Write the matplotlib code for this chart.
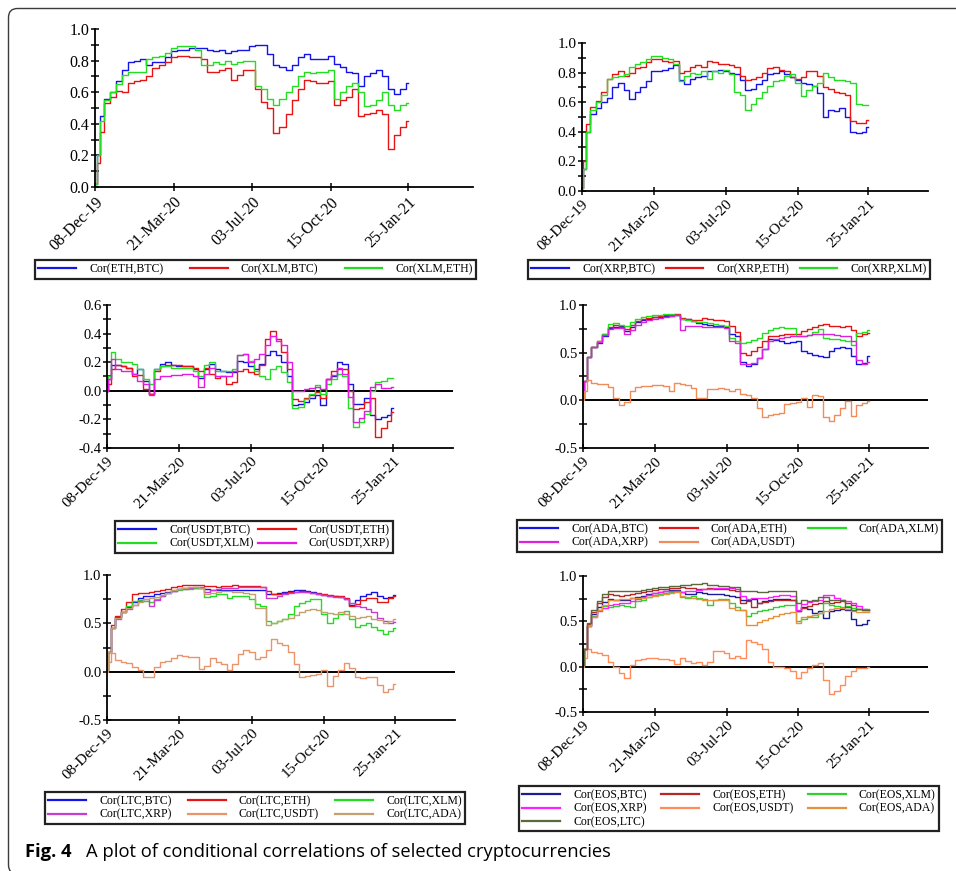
import matplotlib
matplotlib.use("Agg")
import matplotlib.pyplot as plt
import matplotlib.dates as mdates
from matplotlib.ticker import MultipleLocator, FormatStrFormatter
from matplotlib.patches import FancyBboxPatch
from matplotlib.lines import Line2D
import pandas as pd

plt.rcParams["font.family"] = ["Liberation Serif", "DejaVu Serif"]
plt.rcParams["axes.unicode_minus"] = False

# ---------------------------------------------------------------- data
start = pd.Timestamp("2019-12-08")
obs_days = [0, 4] + list(range(8, 409, 8)) + [414]
dates = start + pd.to_timedelta(obs_days, unit="D")

tick_labels = ["08-Dec-19", "21-Mar-20", "03-Jul-20", "15-Oct-20", "25-Jan-21"]
tick_dates = pd.to_datetime(tick_labels, format="%d-%b-%y")
x_end = start + pd.Timedelta(days=500)

# Panel 1
cor_eth_btc = [0.02, 0.20, 0.45, 0.56, 0.60, 0.67, 0.74, 0.79, 0.80, 0.81,
               0.77, 0.79, 0.79, 0.82, 0.86, 0.87, 0.87, 0.88, 0.88, 0.88,
               0.87, 0.86, 0.87, 0.85, 0.86, 0.87, 0.87, 0.89, 0.90, 0.90,
               0.84, 0.77, 0.76, 0.74, 0.77, 0.82, 0.84, 0.81, 0.81, 0.81,
               0.83, 0.78, 0.76, 0.73, 0.72, 0.64, 0.70, 0.72, 0.74, 0.70,
               0.62, 0.59, 0.62, 0.66]
cor_xlm_btc = [0.02, 0.15, 0.35, 0.53, 0.57, 0.61, 0.60, 0.66, 0.67, 0.68,
               0.70, 0.75, 0.77, 0.79, 0.82, 0.83, 0.83, 0.82, 0.82, 0.81,
               0.73, 0.73, 0.74, 0.75, 0.68, 0.71, 0.74, 0.74, 0.62, 0.54,
               0.50, 0.34, 0.38, 0.46, 0.55, 0.62, 0.68, 0.67, 0.66, 0.66,
               0.67, 0.52, 0.55, 0.57, 0.62, 0.45, 0.46, 0.47, 0.49, 0.46,
               0.24, 0.33, 0.38, 0.42]
cor_xlm_eth = [0.02, 0.20, 0.42, 0.55, 0.60, 0.65, 0.71, 0.73, 0.73, 0.73,
               0.81, 0.82, 0.83, 0.85, 0.88, 0.89, 0.89, 0.89, 0.87, 0.77,
               0.77, 0.79, 0.78, 0.80, 0.78, 0.79, 0.80, 0.80, 0.64, 0.62,
               0.56, 0.52, 0.56, 0.60, 0.64, 0.70, 0.73, 0.72, 0.73, 0.73,
               0.74, 0.56, 0.60, 0.64, 0.66, 0.60, 0.51, 0.52, 0.55, 0.60,
               0.52, 0.49, 0.52, 0.53]

# Panel 2
cor_xrp_btc = [0.02, 0.15, 0.40, 0.52, 0.56, 0.60, 0.63, 0.70, 0.73, 0.68,
               0.62, 0.67, 0.70, 0.74, 0.81, 0.81, 0.82, 0.83, 0.85, 0.75,
               0.72, 0.76, 0.77, 0.78, 0.81, 0.81, 0.82, 0.81, 0.80, 0.79,
               0.75, 0.68, 0.69, 0.72, 0.75, 0.79, 0.80, 0.81, 0.79, 0.77,
               0.75, 0.73, 0.72, 0.71, 0.66, 0.50, 0.55, 0.54, 0.56, 0.50,
               0.40, 0.39, 0.40, 0.43]
cor_xrp_eth = [0.02, 0.20, 0.45, 0.57, 0.61, 0.67, 0.76, 0.79, 0.81, 0.78,
               0.80, 0.83, 0.84, 0.87, 0.89, 0.89, 0.88, 0.87, 0.88, 0.80,
               0.81, 0.84, 0.85, 0.84, 0.88, 0.87, 0.86, 0.86, 0.85, 0.84,
               0.78, 0.75, 0.76, 0.77, 0.80, 0.83, 0.84, 0.82, 0.81, 0.77,
               0.76, 0.77, 0.81, 0.81, 0.78, 0.70, 0.69, 0.67, 0.66, 0.65,
               0.47, 0.46, 0.46, 0.48]
cor_xrp_xlm = [0.02, 0.15, 0.40, 0.55, 0.60, 0.65, 0.76, 0.77, 0.78, 0.79,
               0.84, 0.86, 0.87, 0.89, 0.91, 0.91, 0.90, 0.89, 0.86, 0.74,
               0.78, 0.80, 0.79, 0.81, 0.76, 0.81, 0.80, 0.82, 0.79, 0.67,
               0.65, 0.55, 0.59, 0.63, 0.67, 0.71, 0.74, 0.75, 0.78, 0.79,
               0.73, 0.64, 0.68, 0.71, 0.73, 0.80, 0.77, 0.75, 0.75, 0.74,
               0.73, 0.59, 0.58, 0.58]

# Panel 3
cor_usdt_btc = [0.00, 0.08, 0.18, 0.18, 0.17, 0.16, 0.12, 0.15, 0.07, -0.02,
                0.15, 0.19, 0.20, 0.18, 0.17, 0.17, 0.17, 0.15, 0.09, 0.15,
                0.19, 0.15, 0.14, 0.13, 0.13, 0.21, 0.20, 0.17, 0.15, 0.19,
                0.25, 0.28, 0.25, 0.20, 0.10, -0.10, -0.09, -0.08, -0.05, -0.03,
                -0.10, 0.08, 0.10, 0.20, 0.19, 0.05, -0.09, -0.09, -0.05, -0.17,
                -0.20, -0.18, -0.17, -0.12]
cor_usdt_eth = [0.00, 0.05, 0.15, 0.18, 0.17, 0.16, 0.10, 0.11, 0.01, -0.02,
                0.14, 0.17, 0.18, 0.18, 0.18, 0.17, 0.17, 0.16, 0.14, 0.16,
                0.12, 0.09, 0.10, 0.05, 0.06, 0.14, 0.15, 0.13, 0.12, 0.18,
                0.36, 0.42, 0.36, 0.27, 0.15, -0.06, -0.07, -0.05, -0.03, -0.01,
                -0.05, 0.08, 0.14, 0.15, 0.15, 0.00, -0.13, -0.12, -0.08, -0.05,
                -0.32, -0.26, -0.21, -0.15]
cor_usdt_xlm = [0.00, 0.10, 0.27, 0.22, 0.20, 0.20, 0.19, 0.15, 0.08, 0.05,
                0.15, 0.17, 0.17, 0.16, 0.16, 0.16, 0.16, 0.14, 0.10, 0.18,
                0.20, 0.14, 0.14, 0.14, 0.15, 0.25, 0.26, 0.21, 0.14, 0.10,
                0.08, 0.15, 0.17, 0.13, 0.06, -0.12, -0.11, -0.06, -0.02, 0.04,
                -0.02, 0.05, 0.08, 0.12, 0.10, -0.12, -0.25, -0.22, -0.16, 0.00,
                0.06, 0.07, 0.09, 0.09]
cor_usdt_xrp = [0.00, 0.08, 0.22, 0.15, 0.14, 0.14, 0.12, 0.07, 0.05, -0.03,
                0.08, 0.10, 0.10, 0.11, 0.11, 0.12, 0.12, 0.10, 0.03, 0.12,
                0.16, 0.10, 0.10, 0.10, 0.14, 0.25, 0.26, 0.20, 0.22, 0.26,
                0.32, 0.38, 0.35, 0.32, 0.20, 0.00, 0.00, 0.01, 0.02, 0.03,
                0.01, 0.08, 0.11, 0.16, 0.12, -0.04, -0.22, -0.19, -0.14, 0.03,
                0.05, 0.02, 0.02, 0.03]

# Panel 4
cor_ada_btc = [0.02, 0.20, 0.45, 0.56, 0.60, 0.68, 0.76, 0.77, 0.78, 0.73,
               0.77, 0.82, 0.84, 0.85, 0.87, 0.87, 0.88, 0.88, 0.90, 0.85,
               0.85, 0.83, 0.81, 0.80, 0.79, 0.78, 0.78, 0.77, 0.70, 0.68,
               0.40, 0.36, 0.38, 0.44, 0.54, 0.64, 0.63, 0.62, 0.60, 0.61,
               0.62, 0.52, 0.50, 0.48, 0.46, 0.45, 0.52, 0.55, 0.56, 0.55,
               0.46, 0.38, 0.39, 0.47]
cor_ada_eth = [0.02, 0.20, 0.45, 0.56, 0.62, 0.70, 0.77, 0.79, 0.77, 0.75,
               0.79, 0.83, 0.85, 0.86, 0.87, 0.88, 0.89, 0.90, 0.91, 0.86,
               0.85, 0.84, 0.84, 0.86, 0.85, 0.84, 0.84, 0.83, 0.78, 0.72,
               0.50, 0.48, 0.52, 0.56, 0.62, 0.67, 0.68, 0.69, 0.70, 0.70,
               0.70, 0.73, 0.75, 0.77, 0.79, 0.80, 0.78, 0.78, 0.77, 0.78,
               0.74, 0.68, 0.70, 0.71]
cor_ada_xlm = [0.02, 0.20, 0.45, 0.56, 0.62, 0.70, 0.80, 0.81, 0.79, 0.78,
               0.82, 0.85, 0.87, 0.88, 0.89, 0.90, 0.91, 0.91, 0.90, 0.85,
               0.84, 0.83, 0.82, 0.82, 0.81, 0.80, 0.79, 0.78, 0.65, 0.62,
               0.60, 0.61, 0.63, 0.65, 0.71, 0.74, 0.76, 0.77, 0.76, 0.76,
               0.68, 0.68, 0.69, 0.72, 0.75, 0.65, 0.64, 0.64, 0.63, 0.62,
               0.58, 0.71, 0.72, 0.74]
cor_ada_xrp = [0.02, 0.20, 0.45, 0.56, 0.61, 0.69, 0.75, 0.76, 0.76, 0.70,
               0.74, 0.79, 0.82, 0.84, 0.85, 0.86, 0.87, 0.88, 0.89, 0.74,
               0.78, 0.78, 0.78, 0.77, 0.77, 0.77, 0.77, 0.76, 0.62, 0.60,
               0.38, 0.38, 0.39, 0.44, 0.54, 0.62, 0.64, 0.65, 0.66, 0.67,
               0.68, 0.68, 0.69, 0.70, 0.70, 0.70, 0.70, 0.69, 0.68, 0.67,
               0.62, 0.42, 0.38, 0.40]
cor_ada_usdt = [0.00, 0.10, 0.21, 0.18, 0.17, 0.17, 0.14, 0.02, -0.05, -0.02,
                0.10, 0.14, 0.15, 0.15, 0.16, 0.16, 0.15, 0.10, 0.18, 0.17,
                0.16, 0.13, 0.02, 0.02, 0.12, 0.12, 0.13, 0.12, 0.10, 0.12,
                0.07, 0.06, 0.02, -0.08, -0.17, -0.15, -0.14, -0.13, -0.04, -0.03,
                -0.02, 0.02, -0.07, 0.06, 0.05, -0.18, -0.22, -0.15, -0.08, -0.01,
                -0.16, -0.05, -0.03, -0.01]

# Panel 5
cor_ltc_btc = [0.02, 0.20, 0.45, 0.57, 0.62, 0.67, 0.72, 0.76, 0.78, 0.78,
               0.80, 0.81, 0.82, 0.83, 0.86, 0.87, 0.87, 0.87, 0.87, 0.86,
               0.85, 0.84, 0.84, 0.84, 0.84, 0.85, 0.85, 0.85, 0.85, 0.85,
               0.80, 0.80, 0.81, 0.82, 0.83, 0.84, 0.84, 0.83, 0.82, 0.80,
               0.79, 0.78, 0.78, 0.77, 0.75, 0.69, 0.74, 0.78, 0.80, 0.82,
               0.78, 0.76, 0.77, 0.79]
cor_ltc_eth = [0.02, 0.20, 0.48, 0.58, 0.65, 0.72, 0.80, 0.81, 0.81, 0.82,
               0.83, 0.84, 0.86, 0.88, 0.89, 0.90, 0.90, 0.90, 0.90, 0.89,
               0.89, 0.88, 0.89, 0.89, 0.90, 0.89, 0.89, 0.89, 0.89, 0.88,
               0.83, 0.80, 0.80, 0.81, 0.82, 0.82, 0.83, 0.82, 0.81, 0.81,
               0.80, 0.79, 0.78, 0.78, 0.76, 0.68, 0.70, 0.74, 0.76, 0.76,
               0.72, 0.72, 0.76, 0.78]
cor_ltc_xlm = [0.02, 0.20, 0.45, 0.56, 0.62, 0.68, 0.73, 0.74, 0.73, 0.72,
               0.75, 0.78, 0.81, 0.84, 0.85, 0.86, 0.86, 0.87, 0.87, 0.77,
               0.78, 0.80, 0.80, 0.76, 0.78, 0.78, 0.78, 0.75, 0.70, 0.68,
               0.52, 0.50, 0.52, 0.55, 0.60, 0.68, 0.71, 0.73, 0.75, 0.75,
               0.60, 0.50, 0.56, 0.60, 0.63, 0.55, 0.46, 0.48, 0.50, 0.46,
               0.43, 0.39, 0.42, 0.45]
cor_ltc_xrp = [0.02, 0.20, 0.45, 0.55, 0.62, 0.65, 0.69, 0.73, 0.75, 0.68,
               0.74, 0.78, 0.81, 0.83, 0.86, 0.86, 0.87, 0.88, 0.88, 0.82,
               0.84, 0.86, 0.87, 0.87, 0.87, 0.88, 0.88, 0.88, 0.88, 0.88,
               0.76, 0.76, 0.78, 0.80, 0.81, 0.82, 0.82, 0.82, 0.81, 0.80,
               0.79, 0.78, 0.77, 0.77, 0.75, 0.71, 0.68, 0.67, 0.65, 0.62,
               0.56, 0.52, 0.50, 0.51]
cor_ltc_usdt = [0.00, 0.10, 0.19, 0.12, 0.10, 0.09, 0.05, 0.02, -0.06, -0.05,
                0.05, 0.10, 0.11, 0.14, 0.17, 0.16, 0.15, 0.15, 0.03, 0.06,
                0.14, 0.10, 0.08, 0.02, 0.08, 0.18, 0.22, 0.20, 0.13, 0.15,
                0.22, 0.34, 0.30, 0.28, 0.20, 0.08, -0.05, -0.04, -0.03, -0.02,
                0.02, -0.15, -0.04, 0.02, 0.09, 0.04, -0.06, -0.07, -0.06, -0.05,
                -0.14, -0.21, -0.18, -0.13]
cor_ltc_ada = [0.02, 0.20, 0.45, 0.56, 0.62, 0.66, 0.69, 0.72, 0.75, 0.76,
               0.77, 0.79, 0.81, 0.84, 0.86, 0.87, 0.88, 0.88, 0.87, 0.80,
               0.81, 0.82, 0.83, 0.83, 0.82, 0.82, 0.81, 0.80, 0.66, 0.66,
               0.48, 0.50, 0.52, 0.54, 0.56, 0.59, 0.62, 0.64, 0.65, 0.64,
               0.62, 0.61, 0.60, 0.62, 0.60, 0.58, 0.56, 0.57, 0.58, 0.55,
               0.53, 0.50, 0.52, 0.55]

# Panel 6
cor_eos_btc = [0.02, 0.20, 0.45, 0.58, 0.66, 0.71, 0.75, 0.74, 0.73, 0.74,
               0.76, 0.77, 0.78, 0.80, 0.81, 0.82, 0.83, 0.85, 0.85, 0.82,
               0.80, 0.80, 0.82, 0.81, 0.80, 0.80, 0.80, 0.79, 0.78, 0.77,
               0.73, 0.74, 0.75, 0.70, 0.72, 0.74, 0.75, 0.75, 0.75, 0.74,
               0.61, 0.66, 0.64, 0.59, 0.61, 0.54, 0.61, 0.63, 0.64, 0.63,
               0.53, 0.46, 0.47, 0.51]
cor_eos_eth = [0.02, 0.20, 0.47, 0.60, 0.70, 0.77, 0.80, 0.79, 0.78, 0.79,
               0.80, 0.81, 0.82, 0.83, 0.85, 0.86, 0.86, 0.87, 0.87, 0.88,
               0.87, 0.87, 0.86, 0.86, 0.87, 0.86, 0.86, 0.86, 0.85, 0.84,
               0.70, 0.72, 0.66, 0.70, 0.71, 0.72, 0.73, 0.73, 0.73, 0.73,
               0.61, 0.65, 0.67, 0.69, 0.70, 0.72, 0.70, 0.71, 0.72, 0.70,
               0.68, 0.64, 0.62, 0.62]
cor_eos_xlm = [0.02, 0.20, 0.45, 0.56, 0.62, 0.67, 0.66, 0.67, 0.68, 0.67,
               0.66, 0.72, 0.74, 0.77, 0.79, 0.80, 0.81, 0.82, 0.83, 0.77,
               0.76, 0.78, 0.76, 0.75, 0.68, 0.73, 0.75, 0.75, 0.70, 0.66,
               0.62, 0.56, 0.59, 0.61, 0.63, 0.64, 0.66, 0.67, 0.68, 0.68,
               0.50, 0.53, 0.55, 0.55, 0.59, 0.70, 0.68, 0.67, 0.66, 0.67,
               0.65, 0.64, 0.64, 0.64]
cor_eos_xrp = [0.02, 0.20, 0.45, 0.55, 0.61, 0.65, 0.68, 0.69, 0.70, 0.70,
               0.72, 0.75, 0.77, 0.79, 0.81, 0.82, 0.83, 0.83, 0.84, 0.82,
               0.83, 0.84, 0.85, 0.86, 0.86, 0.87, 0.87, 0.87, 0.87, 0.86,
               0.78, 0.75, 0.76, 0.76, 0.76, 0.77, 0.78, 0.79, 0.79, 0.78,
               0.63, 0.69, 0.71, 0.72, 0.74, 0.79, 0.79, 0.76, 0.74, 0.72,
               0.70, 0.67, 0.64, 0.62]
cor_eos_usdt = [0.00, 0.10, 0.20, 0.16, 0.15, 0.13, 0.05, 0.00, -0.07, -0.13,
                0.02, 0.07, 0.09, 0.10, 0.10, 0.08, 0.09, 0.07, 0.03, 0.10,
                0.06, 0.04, 0.05, 0.02, 0.05, 0.17, 0.17, 0.15, 0.10, 0.12,
                0.10, 0.29, 0.27, 0.25, 0.20, 0.05, 0.00, 0.00, -0.01, -0.05,
                -0.13, -0.06, -0.02, 0.02, 0.04, -0.15, -0.30, -0.27, -0.20, -0.10,
                -0.05, -0.02, -0.01, 0.00]
cor_eos_ada = [0.02, 0.20, 0.45, 0.55, 0.62, 0.68, 0.73, 0.74, 0.75, 0.75,
               0.76, 0.76, 0.76, 0.77, 0.78, 0.79, 0.80, 0.81, 0.82, 0.78,
               0.77, 0.76, 0.75, 0.74, 0.73, 0.73, 0.73, 0.74, 0.65, 0.62,
               0.62, 0.46, 0.46, 0.49, 0.52, 0.54, 0.56, 0.58, 0.59, 0.60,
               0.48, 0.55, 0.56, 0.57, 0.59, 0.61, 0.64, 0.65, 0.65, 0.64,
               0.61, 0.60, 0.60, 0.60]
cor_eos_ltc = [0.02, 0.20, 0.48, 0.62, 0.72, 0.80, 0.84, 0.84, 0.83, 0.83,
               0.84, 0.84, 0.85, 0.86, 0.87, 0.88, 0.88, 0.89, 0.89, 0.90,
               0.90, 0.91, 0.91, 0.92, 0.90, 0.90, 0.89, 0.89, 0.88, 0.88,
               0.84, 0.84, 0.83, 0.82, 0.82, 0.83, 0.83, 0.83, 0.83, 0.83,
               0.70, 0.73, 0.72, 0.74, 0.77, 0.77, 0.73, 0.74, 0.74, 0.66,
               0.63, 0.64, 0.63, 0.62]

BLUE, RED, GREEN, MAGENTA = "#1414e6", "#e61414", "#22dd22", "#e619e6"

panels = [
    dict(rect=(95, 29, 473, 187), ylim=(0.0, 1.0), major=0.2, ysize=11.5,
         xsize=11.5, zero=False,
         series=[("Cor(ETH,BTC)", cor_eth_btc, BLUE),
                 ("Cor(XLM,BTC)", cor_xlm_btc, RED),
                 ("Cor(XLM,ETH)", cor_xlm_eth, GREEN)],
         ncol=3, order=[0, 1, 2], legend=(35, 260, 476, 277)),
    dict(rect=(582, 43, 928, 191), ylim=(0.0, 1.0), major=0.2, ysize=11,
         xsize=11, zero=False,
         series=[("Cor(XRP,BTC)", cor_xrp_btc, BLUE),
                 ("Cor(XRP,ETH)", cor_xrp_eth, RED),
                 ("Cor(XRP,XLM)", cor_xrp_xlm, GREEN)],
         ncol=3, order=[0, 1, 2], legend=(528, 260, 930, 276)),
    dict(rect=(107, 305, 453, 448), ylim=(-0.4, 0.6), major=0.2, ysize=10.5,
         xsize=11, zero=True,
         series=[("Cor(USDT,BTC)", cor_usdt_btc, BLUE),
                 ("Cor(USDT,ETH)", cor_usdt_eth, RED),
                 ("Cor(USDT,XLM)", cor_usdt_xlm, GREEN),
                 ("Cor(USDT,XRP)", cor_usdt_xrp, MAGENTA)],
         ncol=2, order=[0, 2, 1, 3], legend=(115, 521, 393, 551)),
    dict(rect=(583, 305, 928, 448), ylim=(-0.5, 1.0), major=0.5, ysize=10.5,
         xsize=11, zero=True,
         series=[("Cor(ADA,BTC)", cor_ada_btc, BLUE),
                 ("Cor(ADA,ETH)", cor_ada_eth, RED),
                 ("Cor(ADA,XLM)", cor_ada_xlm, GREEN),
                 ("Cor(ADA,XRP)", cor_ada_xrp, "#dd22dd"),
                 ("Cor(ADA,USDT)", cor_ada_usdt, "#f08c5a")],
         ncol=3, order=[0, 3, 1, 4, 2], legend=(517, 520, 942, 551)),
    dict(rect=(107, 575, 455, 720), ylim=(-0.5, 1.0), major=0.5, ysize=10.5,
         xsize=11, zero=True,
         series=[("Cor(LTC,BTC)", cor_ltc_btc, BLUE),
                 ("Cor(LTC,ETH)", cor_ltc_eth, RED),
                 ("Cor(LTC,XLM)", cor_ltc_xlm, GREEN),
                 ("Cor(LTC,XRP)", cor_ltc_xrp, "#c83cd2"),
                 ("Cor(LTC,USDT)", cor_ltc_usdt, "#e8946c"),
                 ("Cor(LTC,ADA)", cor_ltc_ada, "#c4a070")],
         ncol=3, order=[0, 3, 1, 4, 2, 5], legend=(45, 792, 465, 822)),
    dict(rect=(583, 576, 928, 712), ylim=(-0.5, 1.0), major=0.5, ysize=10.5,
         xsize=11, zero=True,
         series=[("Cor(EOS,BTC)", cor_eos_btc, "#1c1c96"),
                 ("Cor(EOS,ETH)", cor_eos_eth, "#b42828"),
                 ("Cor(EOS,XLM)", cor_eos_xlm, "#2ed22e"),
                 ("Cor(EOS,XRP)", cor_eos_xrp, "#ff1eff"),
                 ("Cor(EOS,USDT)", cor_eos_usdt, "#ff8c5a"),
                 ("Cor(EOS,ADA)", cor_eos_ada, "#e6913c"),
                 ("Cor(EOS,LTC)", cor_eos_ltc, "#5a6a3c")],
         ncol=3, order=[0, 3, 6, 1, 4, 2, 5], legend=(519, 786, 939, 829)),
]

W, H = 956, 871
fig = plt.figure(figsize=(W / 100, H / 100), dpi=100)


def frac_rect(l, t, r, b):
    return [l / W, 1 - b / H, (r - l) / W, (b - t) / H]


for p in panels:
    ax = fig.add_axes(frac_rect(*p["rect"]))
    for label, vals, color in p["series"]:
        ax.plot(dates, vals, color=color, lw=1.0, drawstyle="steps-mid",
                label=label)
    if p["zero"]:
        ax.axhline(0.0, color="black", lw=1.4, zorder=0)
    ax.set_xlim(start, x_end)
    ax.set_ylim(*p["ylim"])
    for side in ("top", "right"):
        ax.spines[side].set_visible(False)
    for side in ("left", "bottom"):
        ax.spines[side].set_linewidth(1.3)
    ax.set_xticks(tick_dates)
    ax.xaxis.set_major_formatter(mdates.DateFormatter("%d-%b-%y"))
    ax.yaxis.set_major_locator(MultipleLocator(p["major"]))
    ax.yaxis.set_minor_locator(MultipleLocator(p["major"] / 2))
    ax.yaxis.set_major_formatter(FormatStrFormatter("%.1f"))
    ax.tick_params(axis="y", which="major", direction="inout", length=6,
                   width=1.1, labelsize=p["ysize"], pad=1)
    ax.tick_params(axis="y", which="minor", direction="inout", length=6,
                   width=1.1)
    ax.tick_params(axis="x", which="major", direction="inout", length=6,
                   width=1.1, labelsize=p["xsize"], pad=2)
    for lab in ax.get_xticklabels():
        lab.set_rotation(45)
        lab.set_ha("right")
        lab.set_va("top")
        lab.set_rotation_mode("anchor")

    handles = [Line2D([], [], color=c, lw=1.6) for _, _, c in p["series"]]
    labels = [s[0] for s in p["series"]]
    l, t, r, b = p["legend"]
    leg = ax.legend([handles[i] for i in p["order"]],
                    [labels[i] for i in p["order"]],
                    ncol=p["ncol"], loc="upper left",
                    bbox_to_anchor=frac_rect(l, t, r, b),
                    bbox_transform=fig.transFigure, mode="expand",
                    borderaxespad=0, fontsize=8.5, handlelength=3.2,
                    handletextpad=1.1, labelspacing=0.12, borderpad=0.28,
                    columnspacing=0.6, fancybox=False, framealpha=1)
    leg.get_frame().set_edgecolor("#222222")
    leg.get_frame().set_linewidth(1.6)

# outer panel border with rounded corners
border = FancyBboxPatch((8.5 / 100, -0.03), 9.8, (H - 8.5) / 100 + 0.03,
                        boxstyle="round,pad=0,rounding_size=0.09",
                        transform=fig.dpi_scale_trans, fill=False,
                        edgecolor="#3c3c3c", lw=1.0)
fig.add_artist(border)

fig.text(25 / W, 1 - 857 / H, "Fig. 4", fontsize=13.2, fontweight="bold",
         family=["Open Sans", "DejaVu Sans"], va="baseline")
fig.text(86 / W, 1 - 857 / H,
         "A plot of conditional correlations of selected cryptocurrencies",
         fontsize=13.2, family=["Open Sans", "DejaVu Sans"], va="baseline")

fig.savefig("out.png", dpi=100)
